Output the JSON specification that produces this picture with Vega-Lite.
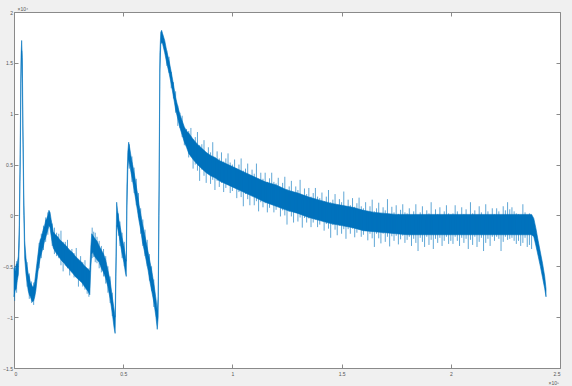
{
"$schema": "https://vega.github.io/schema/vega-lite/v6.json",
"width": 546, "height": 356,
"autosize": {"type": "none"},
"padding": {"left": 14, "top": 12, "right": 12, "bottom": 18},
"background": "#f0f0f0",
"config": {
 "view": {"fill": "white", "stroke": "#8a8a8a", "strokeWidth": 1},
 "axis": {"grid": false, "domain": false, "tickColor": "#8a8a8a", "tickSize": -4, "labelFont": "Liberation Sans", "labelFontSize": 5, "labelColor": "#555555", "titleFont": "Liberation Sans", "titleFontSize": 5, "titleColor": "#555555", "titleFontWeight": "normal"}
},
"datasets": {
"core": [
{"x":0.000,"lo":-0.80,"hi":-0.52},{"x":0.005,"lo":-0.74,"hi":-0.55},{"x":0.010,"lo":-0.72,"hi":-0.48},{"x":0.015,"lo":-0.64,"hi":-0.47},{"x":0.020,"lo":-0.58,"hi":-0.40},{"x":0.024,"lo":-0.30,"hi":-0.10},{"x":0.028,"lo":0.40,"hi":0.60},{"x":0.032,"lo":1.30,"hi":1.55},{"x":0.035,"lo":1.62,"hi":1.72},{"x":0.038,"lo":1.35,"hi":1.55},{"x":0.041,"lo":0.70,"hi":0.90},{"x":0.045,"lo":0.00,"hi":0.20},{"x":0.049,"lo":-0.42,"hi":-0.25},{"x":0.055,"lo":-0.58,"hi":-0.42},{"x":0.060,"lo":-0.66,"hi":-0.50},{"x":0.065,"lo":-0.74,"hi":-0.57},{"x":0.070,"lo":-0.78,"hi":-0.60},{"x":0.075,"lo":-0.80,"hi":-0.66},{"x":0.080,"lo":-0.83,"hi":-0.68},{"x":0.085,"lo":-0.85,"hi":-0.70},{"x":0.090,"lo":-0.84,"hi":-0.70},{"x":0.095,"lo":-0.80,"hi":-0.65},{"x":0.100,"lo":-0.74,"hi":-0.56},{"x":0.105,"lo":-0.64,"hi":-0.47},{"x":0.110,"lo":-0.55,"hi":-0.38},{"x":0.115,"lo":-0.48,"hi":-0.30},{"x":0.120,"lo":-0.42,"hi":-0.24},{"x":0.125,"lo":-0.38,"hi":-0.22},{"x":0.130,"lo":-0.34,"hi":-0.17},{"x":0.135,"lo":-0.30,"hi":-0.13},{"x":0.140,"lo":-0.25,"hi":-0.10},{"x":0.145,"lo":-0.22,"hi":-0.05},{"x":0.150,"lo":-0.18,"hi":-0.03},{"x":0.155,"lo":-0.14,"hi":0.00},{"x":0.160,"lo":-0.10,"hi":0.05},{"x":0.165,"lo":-0.12,"hi":0.03},{"x":0.170,"lo":-0.20,"hi":-0.04},{"x":0.175,"lo":-0.27,"hi":-0.10},{"x":0.180,"lo":-0.32,"hi":-0.16},{"x":0.190,"lo":-0.36,"hi":-0.19},{"x":0.200,"lo":-0.39,"hi":-0.21},{"x":0.210,"lo":-0.42,"hi":-0.24},{"x":0.220,"lo":-0.45,"hi":-0.26},{"x":0.230,"lo":-0.47,"hi":-0.28},{"x":0.240,"lo":-0.50,"hi":-0.30},{"x":0.250,"lo":-0.52,"hi":-0.33},{"x":0.260,"lo":-0.55,"hi":-0.35},{"x":0.270,"lo":-0.57,"hi":-0.37},{"x":0.280,"lo":-0.60,"hi":-0.40},{"x":0.290,"lo":-0.62,"hi":-0.42},{"x":0.300,"lo":-0.64,"hi":-0.44},{"x":0.310,"lo":-0.66,"hi":-0.46},{"x":0.320,"lo":-0.69,"hi":-0.49},{"x":0.330,"lo":-0.72,"hi":-0.51},{"x":0.340,"lo":-0.75,"hi":-0.53},{"x":0.347,"lo":-0.78,"hi":-0.55},{"x":0.352,"lo":-0.50,"hi":-0.30},{"x":0.356,"lo":-0.38,"hi":-0.18},{"x":0.362,"lo":-0.36,"hi":-0.20},{"x":0.368,"lo":-0.40,"hi":-0.22},{"x":0.375,"lo":-0.42,"hi":-0.24},{"x":0.382,"lo":-0.44,"hi":-0.26},{"x":0.390,"lo":-0.46,"hi":-0.30},{"x":0.400,"lo":-0.52,"hi":-0.34},{"x":0.410,"lo":-0.56,"hi":-0.38},{"x":0.420,"lo":-0.62,"hi":-0.44},{"x":0.430,"lo":-0.70,"hi":-0.54},{"x":0.440,"lo":-0.82,"hi":-0.64},{"x":0.450,"lo":-0.96,"hi":-0.80},{"x":0.458,"lo":-1.10,"hi":-0.92},{"x":0.463,"lo":-1.16,"hi":-1.00},{"x":0.467,"lo":-0.60,"hi":-0.40},{"x":0.470,"lo":-0.10,"hi":0.13},{"x":0.474,"lo":-0.12,"hi":0.05},{"x":0.480,"lo":-0.18,"hi":-0.04},{"x":0.487,"lo":-0.28,"hi":-0.12},{"x":0.495,"lo":-0.38,"hi":-0.22},{"x":0.503,"lo":-0.46,"hi":-0.30},{"x":0.510,"lo":-0.56,"hi":-0.40},{"x":0.514,"lo":-0.60,"hi":-0.45},{"x":0.517,"lo":0.05,"hi":0.30},{"x":0.521,"lo":0.45,"hi":0.62},{"x":0.525,"lo":0.55,"hi":0.72},{"x":0.530,"lo":0.50,"hi":0.66},{"x":0.536,"lo":0.42,"hi":0.58},{"x":0.543,"lo":0.34,"hi":0.50},{"x":0.550,"lo":0.25,"hi":0.42},{"x":0.557,"lo":0.16,"hi":0.33},{"x":0.565,"lo":0.05,"hi":0.22},{"x":0.573,"lo":-0.06,"hi":0.10},{"x":0.580,"lo":-0.14,"hi":0.02},{"x":0.588,"lo":-0.26,"hi":-0.08},{"x":0.596,"lo":-0.34,"hi":-0.16},{"x":0.605,"lo":-0.44,"hi":-0.26},{"x":0.614,"lo":-0.54,"hi":-0.36},{"x":0.623,"lo":-0.66,"hi":-0.46},{"x":0.632,"lo":-0.76,"hi":-0.56},{"x":0.641,"lo":-0.86,"hi":-0.68},{"x":0.650,"lo":-1.00,"hi":-0.82},{"x":0.656,"lo":-1.12,"hi":-0.94},{"x":0.660,"lo":-1.00,"hi":-0.80},{"x":0.664,"lo":0.00,"hi":0.30},{"x":0.668,"lo":1.40,"hi":1.60},{"x":0.672,"lo":1.68,"hi":1.80},{"x":0.676,"lo":1.70,"hi":1.82},
{"x":0.68,"lo":1.69,"hi":1.79},{"x":0.69,"lo":1.60,"hi":1.72},{"x":0.70,"lo":1.49,"hi":1.61},{"x":0.71,"lo":1.40,"hi":1.52},{"x":0.72,"lo":1.29,"hi":1.41},{"x":0.73,"lo":1.17,"hi":1.29},{"x":0.74,"lo":1.04,"hi":1.16},{"x":0.75,"lo":0.95,"hi":1.07},{"x":0.76,"lo":0.86,"hi":0.99},{"x":0.77,"lo":0.79,"hi":0.93},{"x":0.78,"lo":0.72,"hi":0.87},{"x":0.79,"lo":0.67,"hi":0.83},{"x":0.80,"lo":0.61,"hi":0.81},{"x":0.82,"lo":0.55,"hi":0.75},{"x":0.84,"lo":0.50,"hi":0.70},{"x":0.86,"lo":0.46,"hi":0.66},{"x":0.88,"lo":0.42,"hi":0.62},{"x":0.90,"lo":0.39,"hi":0.59},{"x":0.92,"lo":0.37,"hi":0.57},{"x":0.94,"lo":0.34,"hi":0.54},{"x":0.96,"lo":0.32,"hi":0.52},{"x":0.98,"lo":0.30,"hi":0.50},{"x":1.00,"lo":0.28,"hi":0.48},{"x":1.05,"lo":0.23,"hi":0.43},{"x":1.10,"lo":0.18,"hi":0.38},{"x":1.15,"lo":0.13,"hi":0.33},{"x":1.20,"lo":0.09,"hi":0.30},{"x":1.25,"lo":0.05,"hi":0.25},{"x":1.30,"lo":0.02,"hi":0.22},{"x":1.35,"lo":-0.02,"hi":0.18},{"x":1.40,"lo":-0.05,"hi":0.15},{"x":1.45,"lo":-0.08,"hi":0.12},{"x":1.50,"lo":-0.10,"hi":0.10},{"x":1.55,"lo":-0.12,"hi":0.08},{"x":1.60,"lo":-0.15,"hi":0.05},{"x":1.65,"lo":-0.16,"hi":0.03},{"x":1.70,"lo":-0.17,"hi":0.02},{"x":1.75,"lo":-0.18,"hi":0.01},{"x":1.80,"lo":-0.19,"hi":0.01},{"x":1.90,"lo":-0.19,"hi":0.01},{"x":2.00,"lo":-0.19,"hi":0.01},{"x":2.10,"lo":-0.19,"hi":0.01},{"x":2.20,"lo":-0.19,"hi":0.01},{"x":2.30,"lo":-0.19,"hi":0.01},{"x":2.37,"lo":-0.19,"hi":0.01},{"x":2.38,"lo":-0.21,"hi":-0.03},{"x":2.39,"lo":-0.30,"hi":-0.13},{"x":2.40,"lo":-0.40,"hi":-0.25},{"x":2.41,"lo":-0.50,"hi":-0.36},{"x":2.42,"lo":-0.61,"hi":-0.47},{"x":2.43,"lo":-0.72,"hi":-0.60},{"x":2.436,"lo":-0.80,"hi":-0.72}
],
"spk": [
{"x":0.003,"lo":-0.84,"hi":-0.50},{"x":0.012,"lo":-0.76,"hi":-0.45},{"x":0.06,"lo":-0.70,"hi":-0.46},{"x":0.07,"lo":-0.82,"hi":-0.57},{"x":0.08,"lo":-0.86,"hi":-0.65},{"x":0.09,"lo":-0.88,"hi":-0.66},{"x":0.115,"lo":-0.52,"hi":-0.27},{"x":0.125,"lo":-0.42,"hi":-0.18},{"x":0.135,"lo":-0.34,"hi":-0.10},{"x":0.145,"lo":-0.26,"hi":-0.02},{"x":0.155,"lo":-0.19,"hi":0.03},
{"x":0.175,"lo":-0.30,"hi":-0.08},{"x":0.185,"lo":-0.38,"hi":-0.12},{"x":0.195,"lo":-0.40,"hi":-0.17},{"x":0.205,"lo":-0.42,"hi":-0.18},{"x":0.215,"lo":-0.49,"hi":-0.15},{"x":0.225,"lo":-0.55,"hi":-0.26},{"x":0.235,"lo":-0.49,"hi":-0.26},{"x":0.245,"lo":-0.52,"hi":-0.24},{"x":0.255,"lo":-0.59,"hi":-0.35},{"x":0.265,"lo":-0.53,"hi":-0.33},{"x":0.275,"lo":-0.61,"hi":-0.37},{"x":0.285,"lo":-0.60,"hi":-0.32},{"x":0.295,"lo":-0.70,"hi":-0.44},{"x":0.305,"lo":-0.64,"hi":-0.40},{"x":0.315,"lo":-0.70,"hi":-0.46},{"x":0.325,"lo":-0.73,"hi":-0.44},{"x":0.335,"lo":-0.77,"hi":-0.54},{"x":0.343,"lo":-0.80,"hi":-0.52},
{"x":0.358,"lo":-0.42,"hi":-0.12},{"x":0.365,"lo":-0.41,"hi":-0.16},{"x":0.372,"lo":-0.46,"hi":-0.17},{"x":0.38,"lo":-0.47,"hi":-0.21},{"x":0.39,"lo":-0.52,"hi":-0.25},{"x":0.40,"lo":-0.56,"hi":-0.30},{"x":0.41,"lo":-0.60,"hi":-0.33},{"x":0.42,"lo":-0.67,"hi":-0.40},{"x":0.43,"lo":-0.76,"hi":-0.50},{"x":0.44,"lo":-0.86,"hi":-0.60},{"x":0.45,"lo":-0.99,"hi":-0.76},
{"x":0.478,"lo":-0.20,"hi":0.02},{"x":0.485,"lo":-0.30,"hi":-0.06},{"x":0.495,"lo":-0.42,"hi":-0.17},{"x":0.505,"lo":-0.50,"hi":-0.26},
{"x":0.528,"lo":0.46,"hi":0.70},{"x":0.54,"lo":0.33,"hi":0.58},{"x":0.55,"lo":0.22,"hi":0.47},{"x":0.56,"lo":0.10,"hi":0.36},{"x":0.57,"lo":-0.02,"hi":0.22},{"x":0.58,"lo":-0.18,"hi":0.07},{"x":0.59,"lo":-0.30,"hi":-0.04},{"x":0.60,"lo":-0.40,"hi":-0.14},{"x":0.61,"lo":-0.50,"hi":-0.24},{"x":0.62,"lo":-0.64,"hi":-0.38},{"x":0.63,"lo":-0.74,"hi":-0.50},{"x":0.64,"lo":-0.90,"hi":-0.63},
{"x":0.70,"lo":1.47,"hi":1.62},{"x":0.71,"lo":1.40,"hi":1.56},{"x":0.72,"lo":1.25,"hi":1.41},{"x":0.73,"lo":1.15,"hi":1.31},{"x":0.74,"lo":1.01,"hi":1.22},{"x":0.75,"lo":0.88,"hi":1.08},{"x":0.76,"lo":0.86,"hi":1.01},{"x":0.77,"lo":0.77,"hi":0.98},{"x":0.78,"lo":0.69,"hi":0.86},{"x":0.79,"lo":0.69,"hi":0.85},
{"x":0.80,"lo":0.57,"hi":0.83},{"x":0.81,"lo":0.58,"hi":0.86},{"x":0.82,"lo":0.46,"hi":0.75},{"x":0.83,"lo":0.50,"hi":0.77},{"x":0.84,"lo":0.44,"hi":0.82},{"x":0.85,"lo":0.34,"hi":0.69},{"x":0.86,"lo":0.45,"hi":0.70},{"x":0.87,"lo":0.39,"hi":0.74},{"x":0.88,"lo":0.32,"hi":0.61},{"x":0.89,"lo":0.41,"hi":0.67},{"x":0.90,"lo":0.31,"hi":0.62},{"x":0.91,"lo":0.35,"hi":0.72},{"x":0.92,"lo":0.25,"hi":0.57},{"x":0.93,"lo":0.34,"hi":0.63},{"x":0.94,"lo":0.28,"hi":0.56},{"x":0.95,"lo":0.32,"hi":0.62},{"x":0.96,"lo":0.23,"hi":0.53},{"x":0.97,"lo":0.27,"hi":0.56},{"x":0.98,"lo":0.30,"hi":0.61},{"x":0.99,"lo":0.22,"hi":0.52},
{"x":1.00,"lo":0.24,"hi":0.50},{"x":1.01,"lo":0.27,"hi":0.55},{"x":1.02,"lo":0.17,"hi":0.46},{"x":1.03,"lo":0.23,"hi":0.50},{"x":1.04,"lo":0.18,"hi":0.56},{"x":1.05,"lo":0.09,"hi":0.44},{"x":1.06,"lo":0.21,"hi":0.46},{"x":1.07,"lo":0.16,"hi":0.51},{"x":1.08,"lo":0.10,"hi":0.39},{"x":1.09,"lo":0.19,"hi":0.45},{"x":1.10,"lo":0.10,"hi":0.41},{"x":1.11,"lo":0.14,"hi":0.51},{"x":1.12,"lo":0.04,"hi":0.36},{"x":1.13,"lo":0.13,"hi":0.42},{"x":1.14,"lo":0.08,"hi":0.36},{"x":1.15,"lo":0.12,"hi":0.42},{"x":1.16,"lo":0.03,"hi":0.33},{"x":1.17,"lo":0.075,"hi":0.365},{"x":1.18,"lo":0.11,"hi":0.42},{"x":1.19,"lo":0.03,"hi":0.33},
{"x":1.20,"lo":0.055,"hi":0.315},{"x":1.21,"lo":0.09,"hi":0.37},{"x":1.22,"lo":-0.01,"hi":0.28},{"x":1.23,"lo":0.05,"hi":0.32},{"x":1.24,"lo":0.00,"hi":0.38},{"x":1.25,"lo":-0.09,"hi":0.26},{"x":1.26,"lo":0.035,"hi":0.285},{"x":1.27,"lo":-0.01,"hi":0.34},{"x":1.28,"lo":-0.07,"hi":0.22},{"x":1.29,"lo":0.025,"hi":0.285},{"x":1.30,"lo":-0.06,"hi":0.25},{"x":1.31,"lo":-0.02,"hi":0.35},{"x":1.32,"lo":-0.12,"hi":0.20},{"x":1.33,"lo":-0.025,"hi":0.265},{"x":1.34,"lo":-0.07,"hi":0.21},{"x":1.35,"lo":-0.03,"hi":0.27},{"x":1.36,"lo":-0.115,"hi":0.185},{"x":1.37,"lo":-0.07,"hi":0.22},{"x":1.38,"lo":-0.04,"hi":0.27},{"x":1.39,"lo":-0.115,"hi":0.185},
{"x":1.40,"lo":-0.09,"hi":0.17},{"x":1.41,"lo":-0.055,"hi":0.225},{"x":1.42,"lo":-0.15,"hi":0.14},{"x":1.43,"lo":-0.085,"hi":0.185},{"x":1.44,"lo":-0.13,"hi":0.25},{"x":1.45,"lo":-0.22,"hi":0.13},{"x":1.46,"lo":-0.095,"hi":0.155},{"x":1.47,"lo":-0.14,"hi":0.21},{"x":1.48,"lo":-0.195,"hi":0.095},{"x":1.49,"lo":-0.10,"hi":0.16},{"x":1.50,"lo":-0.18,"hi":0.13},{"x":1.51,"lo":-0.135,"hi":0.235},{"x":1.52,"lo":-0.23,"hi":0.09},{"x":1.53,"lo":-0.135,"hi":0.155},{"x":1.54,"lo":-0.18,"hi":0.10},{"x":1.55,"lo":-0.13,"hi":0.17},{"x":1.56,"lo":-0.215,"hi":0.085},{"x":1.57,"lo":-0.17,"hi":0.12},{"x":1.58,"lo":-0.135,"hi":0.175},{"x":1.59,"lo":-0.21,"hi":0.09},
{"x":1.60,"lo":-0.19,"hi":0.07},{"x":1.61,"lo":-0.15,"hi":0.13},{"x":1.62,"lo":-0.245,"hi":0.045},{"x":1.63,"lo":-0.18,"hi":0.09},{"x":1.64,"lo":-0.225,"hi":0.155},{"x":1.65,"lo":-0.31,"hi":0.04},{"x":1.66,"lo":-0.18,"hi":0.07},{"x":1.67,"lo":-0.225,"hi":0.125},{"x":1.68,"lo":-0.275,"hi":0.015},{"x":1.69,"lo":-0.18,"hi":0.08},{"x":1.70,"lo":-0.26,"hi":0.05},{"x":1.71,"lo":-0.21,"hi":0.16},{"x":1.72,"lo":-0.305,"hi":0.015},{"x":1.73,"lo":-0.205,"hi":0.085},{"x":1.74,"lo":-0.25,"hi":0.03},{"x":1.75,"lo":-0.20,"hi":0.10},{"x":1.76,"lo":-0.285,"hi":0.015},{"x":1.77,"lo":-0.235,"hi":0.055},{"x":1.78,"lo":-0.20,"hi":0.11},{"x":1.79,"lo":-0.27,"hi":0.03},{"x":1.80,"lo":-0.24,"hi":0.02},
{"x":1.81,"lo":-0.21,"hi":0.07},{"x":1.82,"lo":-0.30,"hi":-0.01},{"x":1.83,"lo":-0.23,"hi":0.04},{"x":1.84,"lo":-0.27,"hi":0.11},{"x":1.85,"lo":-0.35,"hi":0.00},{"x":1.86,"lo":-0.22,"hi":0.03},{"x":1.87,"lo":-0.26,"hi":0.09},{"x":1.88,"lo":-0.31,"hi":-0.02},{"x":1.89,"lo":-0.21,"hi":0.05},{"x":1.90,"lo":-0.29,"hi":0.02},{"x":1.91,"lo":-0.24,"hi":0.13},{"x":1.92,"lo":-0.33,"hi":-0.01},{"x":1.93,"lo":-0.23,"hi":0.06},{"x":1.94,"lo":-0.27,"hi":0.01},{"x":1.95,"lo":-0.22,"hi":0.08},{"x":1.96,"lo":-0.30,"hi":0.00},{"x":1.97,"lo":-0.25,"hi":0.04},{"x":1.98,"lo":-0.21,"hi":0.10},{"x":1.99,"lo":-0.28,"hi":0.02},{"x":2.00,"lo":-0.25,"hi":0.01},
{"x":2.01,"lo":-0.28,"hi":0.02},{"x":2.02,"lo":-0.21,"hi":0.10},{"x":2.03,"lo":-0.25,"hi":0.04},{"x":2.04,"lo":-0.30,"hi":0.00},{"x":2.05,"lo":-0.22,"hi":0.08},{"x":2.06,"lo":-0.27,"hi":0.01},{"x":2.07,"lo":-0.23,"hi":0.06},{"x":2.08,"lo":-0.33,"hi":-0.01},{"x":2.09,"lo":-0.24,"hi":0.13},{"x":2.10,"lo":-0.29,"hi":0.02},{"x":2.11,"lo":-0.21,"hi":0.05},{"x":2.12,"lo":-0.31,"hi":-0.02},{"x":2.13,"lo":-0.26,"hi":0.09},{"x":2.14,"lo":-0.22,"hi":0.03},{"x":2.15,"lo":-0.35,"hi":0.00},{"x":2.16,"lo":-0.27,"hi":0.11},{"x":2.17,"lo":-0.23,"hi":0.04},{"x":2.18,"lo":-0.30,"hi":-0.01},{"x":2.19,"lo":-0.21,"hi":0.07},{"x":2.20,"lo":-0.25,"hi":0.01},
{"x":2.21,"lo":-0.21,"hi":0.07},{"x":2.22,"lo":-0.23,"hi":0.04},{"x":2.23,"lo":-0.35,"hi":0.00},{"x":2.24,"lo":-0.26,"hi":0.09},{"x":2.25,"lo":-0.21,"hi":0.05},{"x":2.26,"lo":-0.24,"hi":0.13},{"x":2.27,"lo":-0.23,"hi":0.06},{"x":2.28,"lo":-0.22,"hi":0.08},{"x":2.29,"lo":-0.25,"hi":0.04},{"x":2.30,"lo":-0.28,"hi":0.02},{"x":2.31,"lo":-0.25,"hi":0.01},{"x":2.32,"lo":-0.30,"hi":-0.01},{"x":2.33,"lo":-0.27,"hi":0.11},{"x":2.34,"lo":-0.22,"hi":0.03},{"x":2.35,"lo":-0.31,"hi":-0.02},{"x":2.36,"lo":-0.29,"hi":0.02},{"x":2.37,"lo":-0.33,"hi":-0.01}
]
},
"layer": [
 {
  "data": {"name": "core"},
  "mark": {"type": "area", "color": "#0072BD", "stroke": "#0072BD", "strokeWidth": 0.6},
  "encoding": {
   "x": {"field": "x", "type": "quantitative", "scale": {"domain": [0, 2.5], "nice": false, "zero": false},
     "axis": {"orient": "bottom", "values": [0, 0.5, 1, 1.5, 2, 2.5], "format": "~g", "labelPadding": 7.5, "title": "×10⁵", "titleAngle": 0, "titleX": 534, "titleY": 16, "titleAlign": "left", "titleBaseline": "alphabetic"}},
   "y": {"field": "lo", "type": "quantitative", "scale": {"domain": [-1.5, 2], "nice": false, "zero": false},
     "axis": {"orient": "left", "values": [-1.5, -1, -0.5, 0, 0.5, 1, 1.5, 2], "format": "~g", "labelPadding": 5.5, "title": "×10⁴", "titleAngle": 0, "titleX": 3, "titleY": -2, "titleAlign": "left", "titleBaseline": "alphabetic"}},
   "y2": {"field": "hi"}
  }
 },
 {
  "data": {"name": "spk"},
  "mark": {"type": "rule", "color": "#0072BD", "strokeWidth": 0.9, "opacity": 0.7},
  "encoding": {
   "x": {"field": "x", "type": "quantitative", "axis": null},
   "y": {"field": "lo", "type": "quantitative", "axis": null},
   "y2": {"field": "hi"}
  }
 },
 {
  "data": {"name": "core"},
  "mark": {"type": "area", "opacity": 0},
  "encoding": {
   "x": {"field": "x", "type": "quantitative", "axis": {"orient": "top", "values": [0, 0.5, 1, 1.5, 2, 2.5], "labels": false, "title": null}},
   "y": {"field": "lo", "type": "quantitative", "axis": {"orient": "right", "values": [-1.5, -1, -0.5, 0, 0.5, 1, 1.5, 2], "labels": false, "title": null}},
   "y2": {"field": "hi"}
  }
 }
],
"resolve": {"axis": {"x": "independent", "y": "independent"}}
}
